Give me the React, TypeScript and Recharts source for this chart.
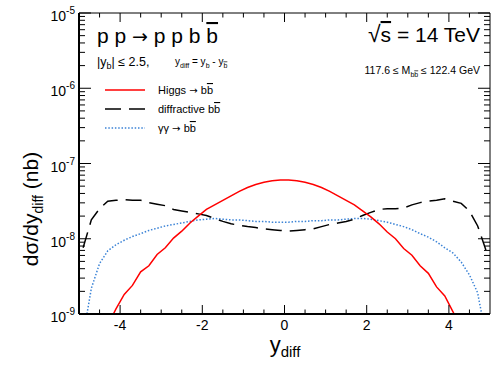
import React from "react";
import { LineChart, Line, XAxis, YAxis } from "recharts";

// y_diff bin centres
const yDiff = [
  -4.9, -4.7, -4.5, -4.3, -4.1, -3.9, -3.7, -3.5, -3.3, -3.1,
  -2.9, -2.7, -2.5, -2.3, -2.1, -1.9, -1.7, -1.5, -1.3, -1.1,
  -0.9, -0.7, -0.5, -0.3, -0.1, 0.1, 0.3, 0.5, 0.7, 0.9,
  1.1, 1.3, 1.5, 1.7, 1.9, 2.1, 2.3, 2.5, 2.7, 2.9,
  3.1, 3.3, 3.5, 3.7, 3.9, 4.1, 4.3, 4.5, 4.7, 4.9,
];

// dsigma/dy_diff in nb
const higgs = [
  null, null, null, 7.1e-10, 1.17e-9, 1.82e-9, 2.4e-9, 3.63e-9, 4.37e-9, 6.17e-9,
  7.59e-9, 1.02e-8, 1.26e-8, 1.62e-8, 2.0e-8, 2.45e-8, 2.82e-8, 3.24e-8, 3.72e-8, 4.27e-8,
  4.79e-8, 5.25e-8, 5.62e-8, 5.89e-8, 6.03e-8, 6.03e-8, 5.89e-8, 5.62e-8, 5.25e-8, 4.79e-8,
  4.27e-8, 3.72e-8, 3.24e-8, 2.82e-8, 2.34e-8, 1.95e-8, 1.58e-8, 1.23e-8, 1.0e-8, 7.41e-9,
  6.03e-9, 4.37e-9, 3.47e-9, 2.29e-9, 1.74e-9, 1.07e-9, 6.3e-10, null, null, null,
];

const diffractive = [
  7.6e-9, 1.78e-8, 2.51e-8, 3.16e-8, 3.24e-8, 3.31e-8, 3.24e-8, 3.24e-8, 3.02e-8, 2.88e-8,
  2.75e-8, 2.45e-8, 2.34e-8, 2.24e-8, 2.14e-8, 2.04e-8, 1.86e-8, 1.7e-8, 1.58e-8, 1.51e-8,
  1.45e-8, 1.41e-8, 1.35e-8, 1.32e-8, 1.29e-8, 1.26e-8, 1.29e-8, 1.32e-8, 1.35e-8, 1.45e-8,
  1.55e-8, 1.62e-8, 1.7e-8, 1.82e-8, 2.04e-8, 2.24e-8, 2.45e-8, 2.51e-8, 2.51e-8, 2.57e-8,
  2.82e-8, 3.02e-8, 3.16e-8, 3.24e-8, 3.39e-8, 3.16e-8, 2.95e-8, 2.34e-8, 1.48e-8, 7.08e-9,
];

const gammaGamma = [
  5.0e-10, 2.19e-9, 4.68e-9, 6.92e-9, 8.32e-9, 9.55e-9, 1.07e-8, 1.17e-8, 1.29e-8, 1.38e-8,
  1.48e-8, 1.55e-8, 1.62e-8, 1.7e-8, 1.78e-8, 1.82e-8, 1.86e-8, 1.82e-8, 1.78e-8, 1.78e-8,
  1.74e-8, 1.7e-8, 1.7e-8, 1.66e-8, 1.66e-8, 1.66e-8, 1.7e-8, 1.7e-8, 1.74e-8, 1.74e-8,
  1.78e-8, 1.78e-8, 1.82e-8, 1.86e-8, 1.86e-8, 1.82e-8, 1.74e-8, 1.66e-8, 1.55e-8, 1.45e-8,
  1.32e-8, 1.17e-8, 1.05e-8, 9.12e-9, 7.59e-9, 6.46e-9, 4.9e-9, 3.31e-9, 1.91e-9, 5.0e-10,
];

const xTicks = [-4.5, -4, -3.5, -3, -2.5, -2, -1.5, -1, -0.5, 0, 0.5, 1, 1.5, 2, 2.5, 3, 3.5, 4, 4.5];
const xLabels = [-4, -2, 0, 2, 4];
const yDecades = [1e-9, 1e-8, 1e-7, 1e-6, 1e-5];
const yExponents = [-9, -8, -7, -6, -5];
const yMantissas = [2, 3, 4, 5, 6, 7, 8, 9];

const yTicks = [
  ...yDecades,
  ...yExponents.slice(0, 4).flatMap((e) => yMantissas.map((m) => m * Math.pow(10, e))),
];

const data = yDiff.map((x, i) => ({
  x,
  higgs: higgs[i],
  diffractive: diffractive[i],
  gammaGamma: gammaGamma[i],
}));

const FONT = "'Liberation Sans', Arial, Helvetica, sans-serif";
const ARROW_FONT = "'DejaVu Sans', sans-serif";
const W = 491;
const H = 370;
const TOP_H = 13;
const BOTTOM_H = 56;
const LEFT_W = 79;
const RIGHT_W = 1;
const PLOT_H = H - TOP_H - BOTTOM_H;
const PLOT_W = W - LEFT_W - RIGHT_W;

const isMajorY = (v: number) => yDecades.some((d) => Math.abs(v - d) / d < 1e-6);

// bottom ticks also mirror onto the top frame (ROOT style, ticks inside)
function BottomTick({ x, y, payload }: any) {
  const major = xLabels.includes(payload.value);
  const len = major ? 9 : 4.5;
  return (
    <g>
      <line x1={x} x2={x} y1={y} y2={y - len} stroke="#000" strokeWidth={1} />
      <line x1={x} x2={x} y1={y - PLOT_H} y2={y - PLOT_H + len} stroke="#000" strokeWidth={1} />
      {major && (
        <text x={x} y={y + 16} textAnchor="middle" fontSize={14} fontFamily={FONT} fill="#000">
          {String(payload.value)}
        </text>
      )}
    </g>
  );
}

// left ticks also mirror onto the right frame
function LeftTick({ x, y, payload }: any) {
  const v = payload.value;
  const major = isMajorY(v);
  const len = major ? 12 : 6;
  const exp = Math.round(Math.log10(v));
  return (
    <g>
      <line x1={x} x2={x + len} y1={y} y2={y} stroke="#000" strokeWidth={1} />
      <line x1={x + PLOT_W} x2={x + PLOT_W - len} y1={y} y2={y} stroke="#000" strokeWidth={1} />
      {major && (
        <text x={x - 4} y={y + 8} textAnchor="end" fontSize={14} fontFamily={FONT} fill="#000">
          10
          <tspan dy={-7} fontSize={10}>
            {String(exp)}
          </tspan>
        </text>
      )}
    </g>
  );
}

const over = { textDecoration: "overline" } as React.CSSProperties;

function Annotations() {
  const legend = [
    { y: 90, color: "#ff0000", dash: undefined, pre: "Higgs ", arrow: true },
    { y: 109, color: "#000000", dash: "16 8", pre: "diffractive ", arrow: false },
    { y: 128, color: "#3b83d6", dash: "1.5 1.8", pre: "\u03b3\u03b3 ", arrow: true },
  ];
  return (
    <svg
      width={W}
      height={H}
      style={{ position: "absolute", left: 0, top: 0, pointerEvents: "none" }}
      fontFamily={FONT}
    >
      <text x={97} y={43} fontSize={21} fill="#000">
        {"p p "}
        <tspan fontFamily={ARROW_FONT} fontSize={19}>{"\u2192"}</tspan>
        {" p p b "}
        <tspan style={over}>b</tspan>
      </text>
      <text x={97} y={66} fontSize={12.5} fill="#000">
        |y
        <tspan fontSize={9} dy={3}>b</tspan>
        <tspan dy={-3}>{"| \u2264 2.5,"}</tspan>
      </text>
      <text x={175} y={65} fontSize={10} fill="#000">
        y<tspan fontSize={7} dy={2.5}>diff</tspan>
        <tspan dy={-2.5}>{" = y"}</tspan>
        <tspan fontSize={7} dy={2.5}>b</tspan>
        <tspan dy={-2.5}>{" - y"}</tspan>
        <tspan fontSize={7} dy={2.5} style={over}>b</tspan>
      </text>
      <text x={480} y={42} fontSize={21} textAnchor="end" fill="#000">
        <tspan fontSize={23}>{"\u221a"}</tspan>
        <tspan style={over}>s</tspan>
        {" = 14 TeV"}
      </text>
      <text x={480} y={74} fontSize={10.5} textAnchor="end" fill="#000">
        {"117.6 \u2264 M"}
        <tspan fontSize={7} dy={2.5}>b</tspan>
        <tspan fontSize={7} style={over}>b</tspan>
        <tspan dy={-2.5}>{" \u2264 122.4 GeV"}</tspan>
      </text>
      {legend.map((l) => (
        <g key={l.pre}>
          <line x1={105} x2={145} y1={l.y} y2={l.y} stroke={l.color} strokeWidth={1.5} strokeDasharray={l.dash} />
          <text x={158} y={l.y + 4} fontSize={11} fill="#000">
            {l.pre}
            {l.arrow && <tspan fontFamily={ARROW_FONT} fontSize={10}>{"\u2192 "}</tspan>}
            b<tspan style={over}>b</tspan>
          </text>
        </g>
      ))}
      <text transform="translate(38,209) rotate(-90)" textAnchor="middle" fontSize={21} fill="#000">
        {"d\u03c3/dy"}
        <tspan fontSize={14} dy={5}>diff</tspan>
        <tspan dy={-5}>{" (nb)"}</tspan>
      </text>
      <text x={285} y={352} textAnchor="middle" fontSize={22} fill="#000">
        y<tspan fontSize={15} dy={5}>diff</tspan>
      </text>
    </svg>
  );
}

export default function App() {
  return (
    <div style={{ position: "absolute", left: 0, top: 0, width: W, height: H, background: "#fff" }}>
      <LineChart width={W} height={H} data={data} margin={{ top: 0, right: 0, bottom: 0, left: 0 }}>
        <XAxis
          dataKey="x"
          type="number"
          domain={[-5, 5]}
          allowDataOverflow
          ticks={xTicks}
          interval={0}
          height={BOTTOM_H}
          tickSize={0}
          tickMargin={0}
          tickLine={false}
          axisLine={{ stroke: "#000", strokeWidth: 2 }}
          tick={(p: any) => <BottomTick {...p} />}
        />
        <XAxis
          xAxisId="top"
          orientation="top"
          height={TOP_H}
          tick={false}
          tickLine={false}
          axisLine={{ stroke: "#000", strokeWidth: 1 }}
        />
        <YAxis
          type="number"
          scale="log"
          domain={[1e-9, 1e-5]}
          allowDataOverflow
          ticks={yTicks}
          interval={0}
          width={LEFT_W}
          tickSize={0}
          tickMargin={0}
          tickLine={false}
          axisLine={{ stroke: "#000", strokeWidth: 2 }}
          tick={(p: any) => <LeftTick {...p} />}
        />
        <YAxis
          yAxisId="right"
          orientation="right"
          width={RIGHT_W}
          tick={false}
          tickLine={false}
          axisLine={{ stroke: "#000", strokeWidth: 1 }}
        />
        <Line
          dataKey="gammaGamma"
          stroke="#3b83d6"
          strokeWidth={1.5}
          strokeDasharray="1.5 1.8"
          dot={false}
          activeDot={false}
          type="linear"
          isAnimationActive={false}
        />
        <Line
          dataKey="diffractive"
          stroke="#000"
          strokeWidth={1.5}
          strokeDasharray="16 8"
          dot={false}
          activeDot={false}
          type="linear"
          isAnimationActive={false}
        />
        <Line
          dataKey="higgs"
          stroke="#ff0000"
          strokeWidth={1.5}
          dot={false}
          activeDot={false}
          type="linear"
          isAnimationActive={false}
        />
      </LineChart>
      <Annotations />
    </div>
  );
}
